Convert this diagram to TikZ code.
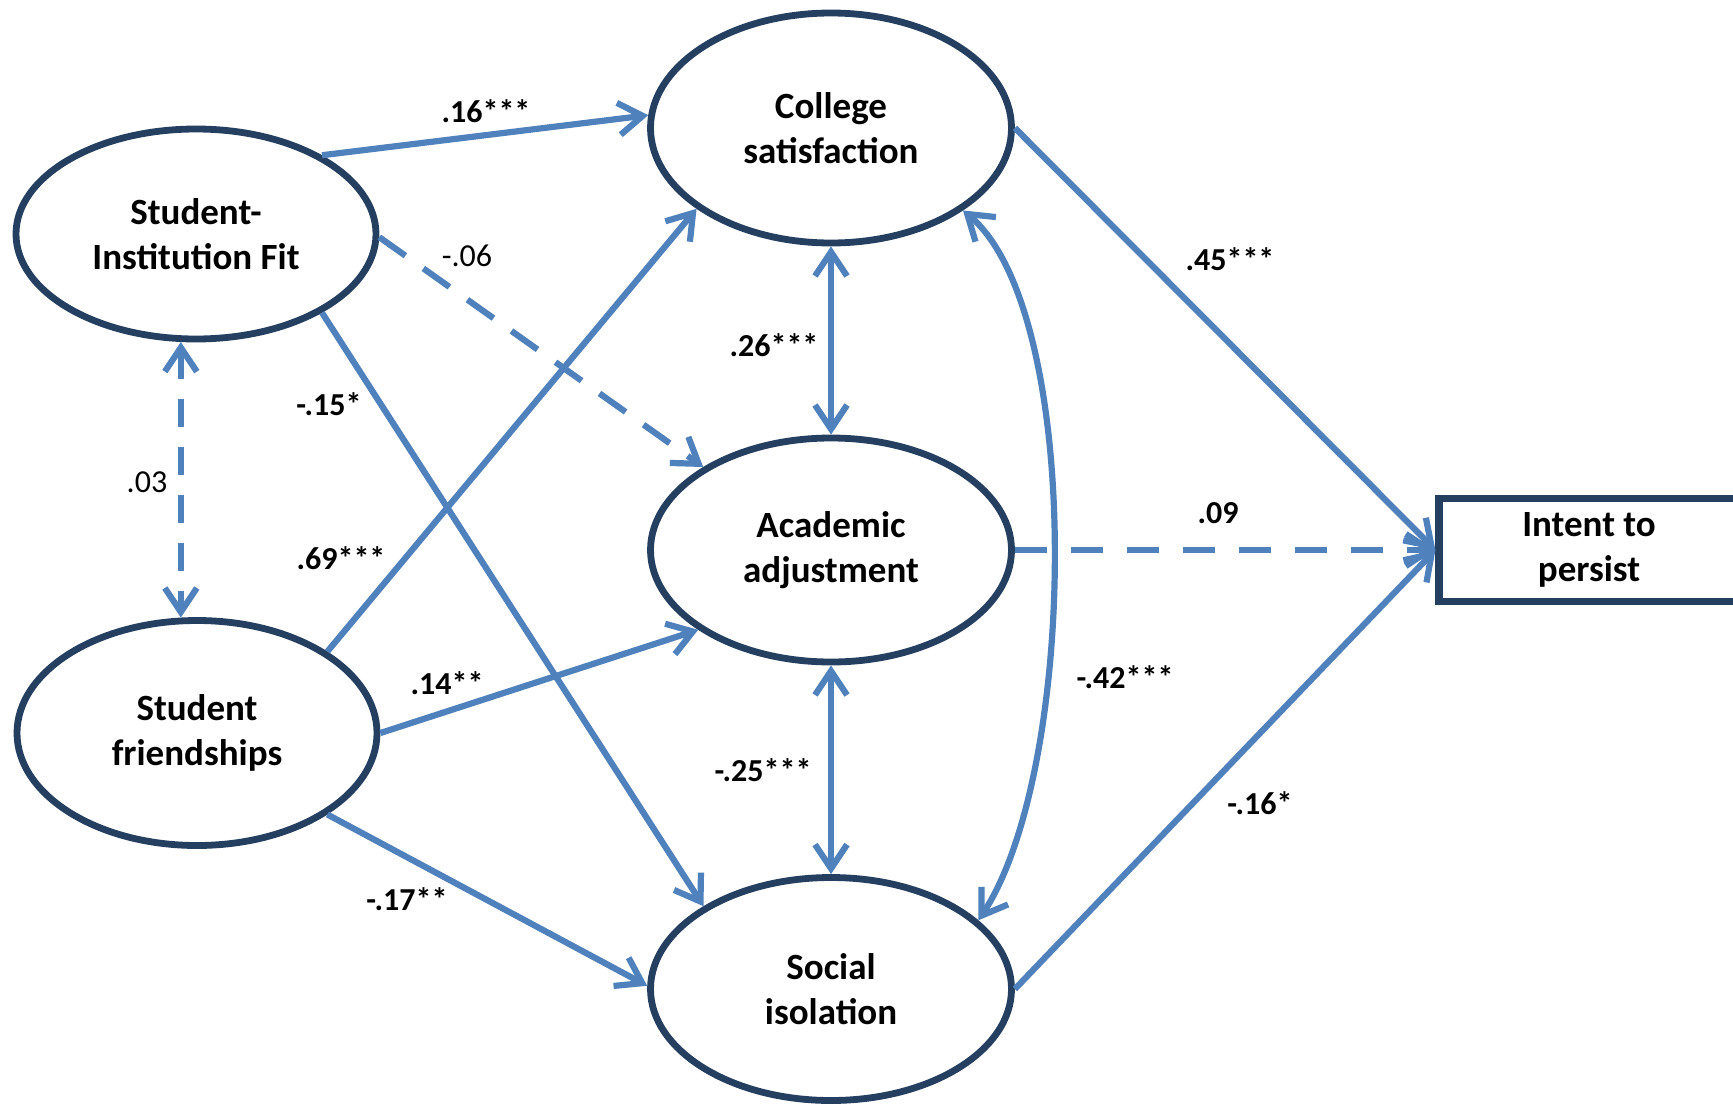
\documentclass[tikz,border=0pt]{standalone}
\usepackage{fontspec}
\setmainfont{Carlito}
\usetikzlibrary{arrows.meta,shapes.geometric}
\definecolor{arrowblue}{HTML}{4F81BD}
\definecolor{navyline}{HTML}{243F60}
\begin{document}
\begin{tikzpicture}[x=0.5pt,y=-0.5pt,
  latent/.style={ellipse, draw=navyline, line width=3.4pt, fill=white, inner sep=0pt, align=center,
    font=\fontsize{18.5}{22.5}\selectfont\bfseries},
  observed/.style={rectangle, draw=navyline, line width=3.6pt, fill=white, inner sep=0pt, align=center,
    minimum width=150pt, minimum height=51.5pt, font=\fontsize{18.5}{22.5}\selectfont\bfseries},
  regpath/.style={draw=arrowblue, line width=3.1pt, -{Straight Barb[length=12pt,width=16pt]}},
  covpath/.style={draw=arrowblue, line width=3.1pt,
    {Straight Barb[length=12pt,width=16pt]}-{Straight Barb[length=12pt,width=16pt]}},
  dashes/.style={dash pattern=on 16pt off 11pt},
  coef/.style={font=\fontsize{16}{19}\selectfont\bfseries, inner sep=0pt},
  coefns/.style={font=\fontsize{16}{19}\selectfont, inner sep=0pt},
]
\useasboundingbox (0,0) rectangle (1733,1103);
\fill[white] (0,0) rectangle (1733,1103);
\clip (0,0) rectangle (1733,1103);

% nodes
\node[latent, minimum width=180pt, minimum height=105pt] (sif) at (196,234) {Student-\\Institution Fit};
\node[latent, minimum width=180pt, minimum height=112.5pt] (sf) at (197,733) {Student\\friendships};
\node[latent, minimum width=180.5pt, minimum height=115pt] (cs) at (831,128) {College\\satisfaction};
\node[latent, minimum width=180.5pt, minimum height=112pt] (aa) at (831,550) {Academic\\adjustment};
\node[latent, minimum width=180.5pt, minimum height=111.5pt] (si) at (831,989) {Social\\isolation};
\node[observed] (itp) at (1589,550) {Intent to\\persist};

% control points of the curved covariance
\coordinate (c1) at (1084,311);
\coordinate (c2) at (1078,770);

% paths
\draw[regpath] (sif.32) -- (cs.176);
\draw[regpath, dashes] (sif.-1) -- (aa.147);
\draw[regpath] (sif.-32) -- (si.147);
\draw[covpath, dash pattern=on 14pt off 10pt] (sif.262) -- (sif.262 |- sf.98);
\draw[regpath] (sf.32.5) -- (cs.211.7);
\draw[regpath] (sf.east) -- (aa.211);
\draw[regpath] (sf.-32) -- (si.179);
\draw[covpath] (cs.south) -- (aa.north);
\draw[covpath] (aa.south) -- (si.north);
\draw[covpath] (cs.-32) .. controls (c1) and (c2) .. (si.25);
\draw[regpath] (cs.east) -- (itp.west);
\draw[regpath, dash pattern=on 16pt off 12pt] (aa.east) -- (itp.west);
\draw[regpath] (si.east) -- (itp.west);

% coefficients
\node[coef] (l16) at (486,111) {.16***};
\node[coefns] (l06) at (467,256) {-.06};
\node[coef] (l26) at (774,345) {.26***};
\node[coef] (l45) at (1230,259) {.45***};
\node[coef] (l15) at (329,404) {-.15*};
\node[coefns] (l03) at (147,482) {.03};
\node[coef] (l69) at (341,558) {.69***};
\node[coef] (l09) at (1218,513) {.09};
\node[coef] (l14) at (447,683) {.14**};
\node[coef] (l42) at (1125,677) {-.42***};
\node[coef] (l25) at (763,770) {-.25***};
\node[coef] (l16b) at (1260,803) {-.16*};
\node[coef] (l17) at (407,899) {-.17**};
\end{tikzpicture}
\end{document}
